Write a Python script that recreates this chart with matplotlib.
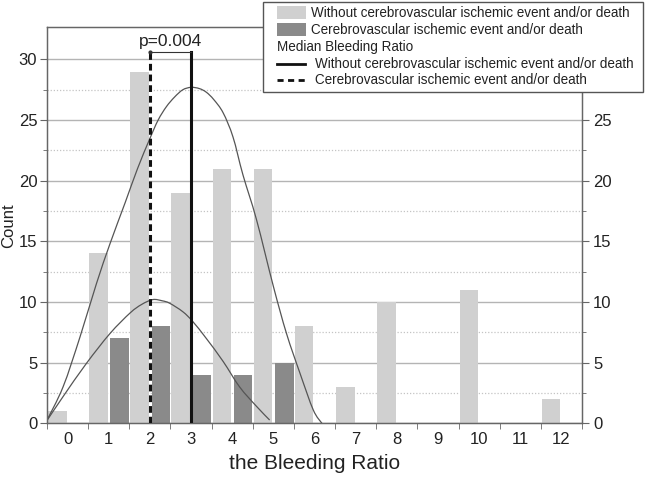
import matplotlib
matplotlib.use("Agg")
import matplotlib.pyplot as plt
from matplotlib.patches import Rectangle, PathPatch
from matplotlib.path import Path
from matplotlib.lines import Line2D
import numpy as np

plt.rcParams['font.family'] = ['Liberation Sans', 'DejaVu Sans']

# histogram counts per bleeding ratio
ratio = list(range(13))
without_counts = [1, 14, 29, 19, 21, 21, 8, 3, 10, 0, 11, 0, 2]
cerebro_counts = [0, 7, 8, 4, 4, 5, 0, 0, 0, 0, 0, 0, 0]

# distribution curves
without_curve_x = [-0.52, -0.11, 0.30, 0.70, 1.03, 1.40, 1.70, 1.99, 2.20, 2.40, 2.60, 2.80, 3.0,
                   3.20, 3.37, 3.55, 3.78, 4.02, 4.26, 4.59, 5.0, 5.32, 5.65, 5.97, 6.18]
without_curve_y = [0.13, 3.0, 7.1, 11.5, 14.8, 18.2, 21.0, 23.4, 25.0, 26.1, 26.9, 27.5, 27.7,
                   27.6, 27.3, 26.7, 25.6, 23.6, 20.5, 16.8, 11.3, 7.4, 4.1, 1.1, 0.0]
cerebro_curve_x = [-0.52, -0.11, 0.46, 1.03, 1.52, 1.80, 2.07, 2.30, 2.48, 2.80, 3.04, 3.37,
                   3.78, 4.18, 4.59, 4.91]
cerebro_curve_y = [0.13, 2.2, 4.95, 7.4, 9.1, 9.8, 10.2, 10.1, 9.9, 9.2, 8.4, 7.0,
                   5.1, 3.0, 1.4, 0.27]

# medians
median_without = 3
median_cerebro = 2
p_text = "p=0.004"

light = "#d0d0d0"
dark = "#8a8a8a"
axcol = "#666666"
txtcol = "#222222"


def smooth_path(xs, ys):
    # Catmull-Rom through the read points, drawn as cubic Bezier segments
    p = np.column_stack([xs, ys])
    p = np.vstack([p[0], p, p[-1]])
    verts = [p[1]]
    codes = [Path.MOVETO]
    for i in range(1, len(p) - 2):
        c1 = p[i] + (p[i + 1] - p[i - 1]) / 6
        c2 = p[i + 1] - (p[i + 2] - p[i]) / 6
        verts += [c1, c2, p[i + 1]]
        codes += [Path.CURVE4] * 3
    return Path(verts, codes)


fig = plt.figure(figsize=(6.45, 4.8), dpi=100)
ax = fig.add_axes([47 / 645, 1 - 423.3 / 480, 535 / 645, 396 / 480])

x = np.array(ratio)
ax.bar(x - 0.25, without_counts, width=0.45, color=light, zorder=2)
ax.bar(x + 0.265, cerebro_counts, width=0.45, color=dark, zorder=2)

for cx, cy in [(without_curve_x, without_curve_y), (cerebro_curve_x, cerebro_curve_y)]:
    ax.add_patch(PathPatch(smooth_path(cx, cy), facecolor="none", edgecolor="#555555",
                           lw=0.9, zorder=3))

top = 30.6
ax.plot([median_without, median_without], [0, top], color="#111111", lw=2.2, zorder=4)
ax.plot([median_cerebro, median_cerebro], [0, top], color="#111111", lw=2.2,
        linestyle=(0, (2.2, 1.3)), zorder=4)
ax.plot([median_cerebro, median_without], [top, top], color="#333333", lw=0.8, zorder=4)
ax.plot([median_cerebro], [top], marker="o", ms=2, color="#333333", zorder=4)
ax.text((median_cerebro + median_without) / 2, top + 0.3, p_text, ha="center", va="bottom",
        fontsize=12.5, color=txtcol)

ax.set_xlim(-0.5, 12.5)
ax.set_ylim(0, 32.65)
ax.set_xticks(ratio)
ax.set_xticks(np.arange(-0.5, 13, 1), minor=True)
ax.set_yticks(range(0, 31, 5))
ax.set_yticks(np.arange(2.5, 32, 5), minor=True)
ax.tick_params(axis="x", which="major", length=0, pad=6, labelsize=12, labelcolor=txtcol)
ax.tick_params(axis="x", which="minor", length=4, direction="out", color=axcol)
ax.tick_params(axis="y", which="major", length=5, direction="out", color=axcol,
               labelsize=12, labelcolor=txtcol, pad=2)
ax.tick_params(axis="y", which="minor", length=3, direction="out", color=axcol)

ax.set_axisbelow(True)
ax.grid(axis="y", which="major", color="#b4b4b4", lw=1.0)
ax.grid(axis="y", which="minor", color="#c4c4c4", lw=0.9, linestyle=(0, (1, 1.5)))
for s in ax.spines.values():
    s.set_color(axcol)
    s.set_linewidth(1.0)

ax.set_xlabel("the Bleeding Ratio", fontsize=15, color=txtcol, labelpad=5)
ax.set_ylabel("Count", fontsize=12, color=txtcol)
ax.yaxis.set_label_coords(-0.057, 0.5)

ax2 = ax.twinx()
ax2.set_ylim(ax.get_ylim())
ax2.set_yticks(range(0, 26, 5))
ax2.set_yticks(np.arange(2.5, 32, 5), minor=True)
ax2.tick_params(axis="y", which="major", length=5, direction="out", color=axcol,
                labelsize=12, labelcolor=txtcol, pad=3)
ax2.tick_params(axis="y", which="minor", length=3, direction="out", color=axcol)
for s in ax2.spines.values():
    s.set_color(axcol)

# legend drawn by hand in pixel coordinates
lg = fig.add_axes([0, 0, 1, 1], zorder=10)
lg.set_xlim(0, 645)
lg.set_ylim(480, 0)
lg.axis("off")
lg.add_patch(Rectangle((263, 2), 380, 90, facecolor="white", edgecolor="#555555", lw=1.0))
rows = [13, 30, 47, 63.5, 80]
labels = ["Without cerebrovascular ischemic event and/or death",
          "Cerebrovascular ischemic event and/or death",
          "Median Bleeding Ratio",
          "Without cerebrovascular ischemic event and/or death",
          "Cerebrovascular ischemic event and/or death"]
lg.add_patch(Rectangle((277, rows[0] - 7), 29, 13, facecolor=light, edgecolor="none"))
lg.add_patch(Rectangle((277, rows[1] - 7), 29, 13, facecolor=dark, edgecolor="none"))
lg.add_line(Line2D([277, 305], [rows[3], rows[3]], color="#111111", lw=2.0))
lg.add_line(Line2D([277, 305], [rows[4], rows[4]], color="#111111", lw=2.0,
                   linestyle=(0, (2.2, 1.6))))
text_x = [311, 311, 277, 315, 315]
for tx, ty, lab in zip(text_x, rows, labels):
    lg.text(tx, ty, lab, fontsize=9.75, color=txtcol, va="center", ha="left")

fig.savefig("out.png", dpi=100)
